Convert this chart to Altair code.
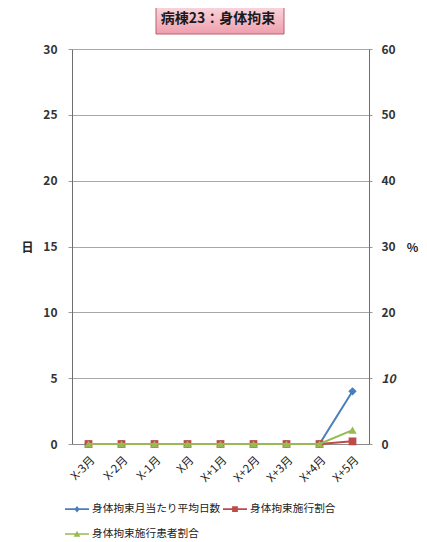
import altair as alt
import pandas as pd

# ---- data ----
months = ["X-3月", "X-2月", "X-1月", "X月", "X+1月", "X+2月", "X+3月", "X+4月", "X+5月"]
avg_days = [0, 0, 0, 0, 0, 0, 0, 0, 4]            # 身体拘束月当たり平均日数 (左軸: 日)
restraint_rate = [0, 0, 0, 0, 0, 0, 0, 0, 0.4]    # 身体拘束施行割合 (右軸: %)
patient_rate = [0, 0, 0, 0, 0, 0, 0, 0, 2.1]      # 身体拘束施行患者割合 (右軸: %)
# legend order (entries fill the legend column by column)
series_names = ["身体拘束月当たり平均日数", "身体拘束施行患者割合", "身体拘束施行割合"]
series_colors = ["#4a7ebb", "#98b954", "#be4b48"]
left_ticks = [0, 5, 10, 15, 20, 25, 30]
right_ticks = [0, 10, 20, 30, 40, 50, 60]
title_text = "病棟23：身体拘束"

FONT = "Noto Sans CJK JP"

df_days = pd.DataFrame({"month": months, "value": avg_days})
df_rate = pd.DataFrame({"month": months, "value": restraint_rate})
df_patient = pd.DataFrame({"month": months, "value": patient_rate})
legend_df = pd.DataFrame({"series": series_names})

x_enc = alt.X(
    "month:N", sort=months, title=None,
    axis=alt.Axis(labelAngle=-45, labelFontSize=11.5, labelColor="#222222", ticks=False,
                  domainColor="#8c8c8c", labelPadding=10, labelFont=FONT),
)

y_left = alt.Y(
    "value:Q", scale=alt.Scale(domain=[0, 30]),
    axis=alt.Axis(orient="left", values=left_ticks, title="日", titleAngle=0,
                  titleX=-45, titleY=198, titleAlign="center", titleBaseline="middle",
                  titleFontSize=12, titleFontWeight="bold", titleColor="#222222",
                  labelFontWeight="bold", labelFontSize=12, labelColor="#333333",
                  labelPadding=11, tickSize=4, tickColor="#9a9a9a",
                  grid=True, gridColor="#a8a8a8", domainColor="#6e6e6e"),
)

y_right = alt.Y(
    "value:Q", scale=alt.Scale(domain=[0, 60]),
    axis=alt.Axis(orient="right", values=right_ticks, title="%", titleAngle=0,
                  titleX=43, titleY=198, titleAlign="center", titleBaseline="middle",
                  titleFontSize=12, titleFontWeight="bold", titleColor="#222222",
                  labelFontWeight="bold", labelFontSize=12, labelColor="#333333",
                  labelFontStyle={"condition": {"test": "datum.value == 10", "value": "italic"},
                                  "value": "normal"},
                  labelPadding=9, tickSize=3, tickColor="#9a9a9a",
                  grid=False, domainColor="#6e6e6e"),
)


def series(df, y, color, shape, size):
    base = alt.Chart(df).encode(x=x_enc, y=y)
    line = base.mark_line(color=color, strokeWidth=2)
    pts = base.mark_point(filled=True, shape=shape, size=size, color=color, opacity=1)
    return line, pts


b_line, b_pts = series(df_days, y_left, "#4a7ebb", "diamond", 70)
r_line, r_pts = series(df_rate, y_right, "#be4b48", "square", 60)
g_line, g_pts = series(df_patient, y_right, "#98b954", "triangle-up", 70)

left = alt.layer(b_line, b_pts)
right = alt.layer(r_line, r_pts, g_line, g_pts)

# legend symbols: a line stub with the series marker
legend_paths = [
    "M-1,-0.07 L1,-0.07 L1,0.07 L-1,0.07 Z M0,-0.27 L0.22,0 L0,0.27 L-0.22,0 Z",
    "M-1,-0.07 L1,-0.07 L1,0.07 L-1,0.07 Z M0,-0.28 L0.28,0.22 L-0.28,0.22 Z",
    "M-1,-0.07 L1,-0.07 L1,0.07 L-1,0.07 Z M-0.24,-0.24 L0.24,-0.24 L0.24,0.24 L-0.24,0.24 Z",
]
leg = alt.Legend(orient="none", legendX=-7, legendY=448, columns=2, title=None,
                 symbolSize=576, symbolStrokeWidth=0, labelFontSize=10.7,
                 labelFont=FONT, labelColor="#222222", labelOffset=3,
                 columnPadding=2, rowPadding=8, padding=0, labelLimit=300)
legend_layer = alt.Chart(legend_df).transform_filter("false").mark_point(
    filled=True, opacity=1
).encode(
    color=alt.Color("series:N", scale=alt.Scale(domain=series_names, range=series_colors), legend=leg),
    shape=alt.Shape("series:N", scale=alt.Scale(domain=series_names, range=legend_paths), legend=leg),
)

# title box
gradient = alt.LinearGradient(
    gradient="linear",
    stops=[alt.GradientStop(color="#fadbe1", offset=0), alt.GradientStop(color="#ef9eac", offset=1)],
    x1=0, x2=0, y1=0, y2=1,
)
title_data = alt.Data(values=[{"t": title_text}])
box = alt.Chart(title_data).mark_rect(fill=gradient, stroke="#b8606c", strokeWidth=1).encode(
    x=alt.value(84), x2=alt.value(212), y=alt.value(-45), y2=alt.value(-15)
)
title_mark = alt.Chart(title_data).mark_text(
    font=FONT, fontSize=14, fontWeight="bold", color="#1a1a1a", align="center", baseline="middle"
).encode(text="t:N", x=alt.value(146), y=alt.value(-30))

chart = alt.layer(left, right, legend_layer, box, title_mark).resolve_scale(
    y="independent"
).properties(
    width=297, height=395,
    autosize=alt.AutoSizeParams(type="none"),
    padding={"left": 64, "top": 41, "right": 50, "bottom": 98},
    background="white",
).configure_view(strokeWidth=0).configure_axis(labelFont=FONT, titleFont=FONT)

chart.save("out.html", embed_options={"renderer": "svg", "actions": False})
